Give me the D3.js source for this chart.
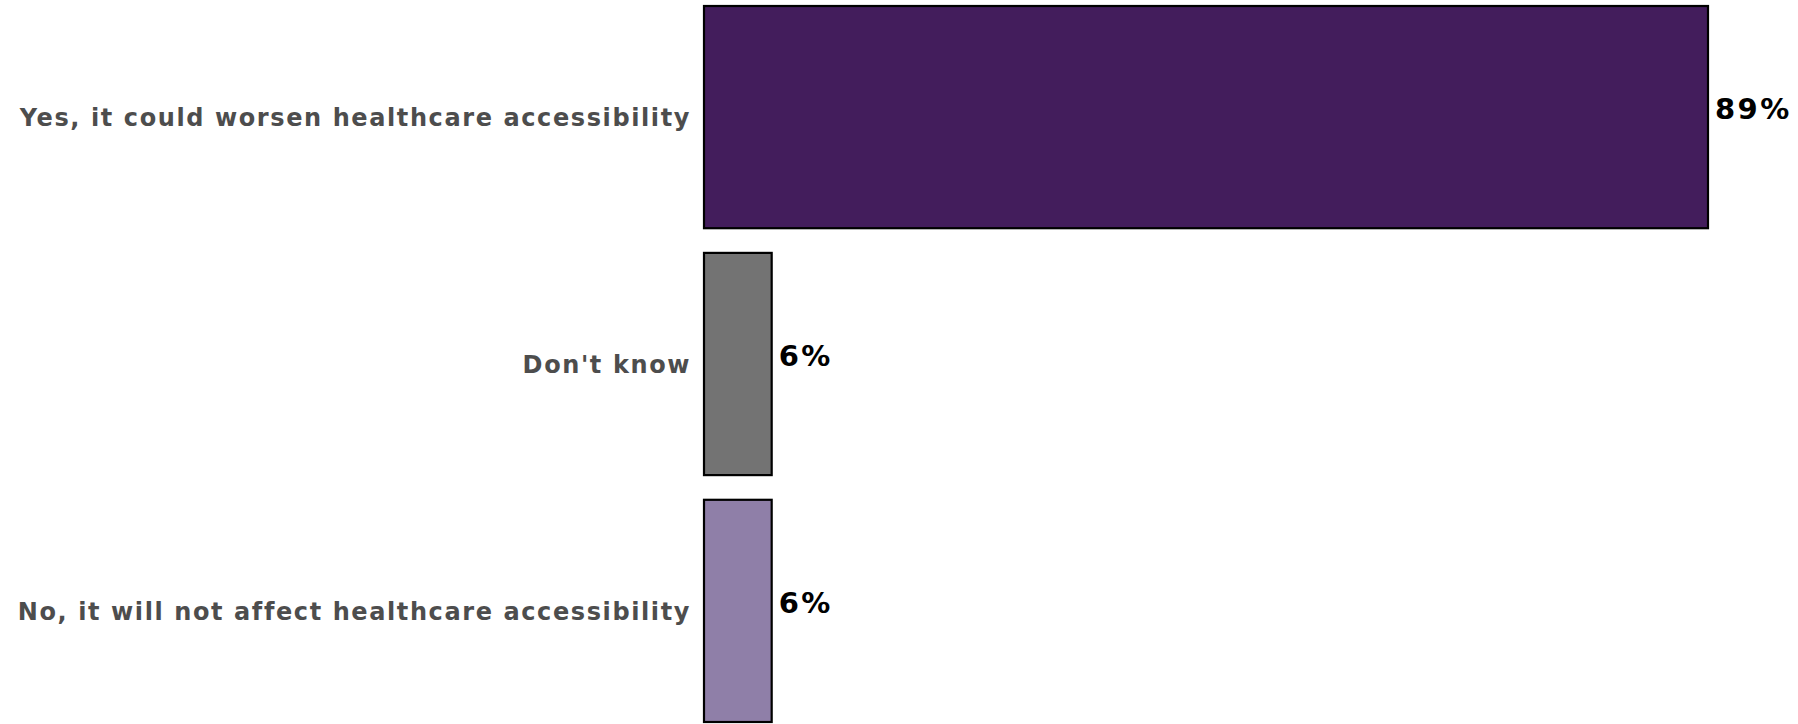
<!DOCTYPE html>
<html>
<head>
<meta charset="utf-8">
<script src="https://cdn.jsdelivr.net/npm/d3@7"></script>
<style>
  html, body { margin: 0; padding: 0; background: #ffffff; }
  svg { display: block; }
</style>
</head>
<body>
<div id="chart"></div>
<script>
// data
var categories = [
    "Yes, it could worsen healthcare accessibility",
    "Don't know",
    "No, it will not affect healthcare accessibility"
];
var values = [89, 6, 6];
var barColors = ["#431d5c", "#737373", "#8f7fa8"];

var width = 1798;
var height = 724;
var margin = { top: 6, right: 90, bottom: 2, left: 704 };

var svg = d3.select("#chart")
    .append("svg")
    .attr("width", width)
    .attr("height", height);

var x = d3.scaleLinear()
    .domain([0, 89])
    .range([margin.left, width - margin.right]);

var y = d3.scaleBand()
    .domain(categories)
    .range([margin.top, height - margin.bottom])
    .paddingInner(0.1)
    .paddingOuter(0);

// bars
svg.selectAll("rect.bar")
    .data(categories)
    .enter()
    .append("rect")
    .attr("class", "bar")
    .attr("x", x(0))
    .attr("y", function (d) { return y(d); })
    .attr("width", function (d, i) { return x(values[i]) - x(0); })
    .attr("height", y.bandwidth())
    .attr("fill", function (d, i) { return barColors[i]; })
    .attr("stroke", "#000")
    .attr("stroke-width", 2.2);

// category labels (y axis without line/ticks)
var yAxis = d3.axisLeft(y).tickSize(0).tickPadding(13);
var gy = svg.append("g")
    .attr("transform", "translate(" + x(0) + ",0)")
    .call(yAxis);
gy.select(".domain").remove();
gy.selectAll("text")
    .attr("fill", "#4d4d4d")
    .attr("dy", "0.38em")
    .style("font-family", "DejaVu Sans")
    .style("font-weight", "bold")
    .style("font-size", "24px")
    .style("letter-spacing", "1.6px");

// value labels
svg.selectAll("text.value")
    .data(categories)
    .enter()
    .append("text")
    .attr("class", "value")
    .attr("x", function (d, i) { return x(values[i]) + 7; })
    .attr("y", function (d) { return y(d) + y.bandwidth() / 2 + 2; })
    .attr("fill", "#000")
    .style("font-family", "DejaVu Sans")
    .style("font-weight", "bold")
    .style("font-size", "29px")
    .style("letter-spacing", "2.4px")
    .text(function (d, i) { return values[i] + "%"; });
</script>
</body>
</html>
